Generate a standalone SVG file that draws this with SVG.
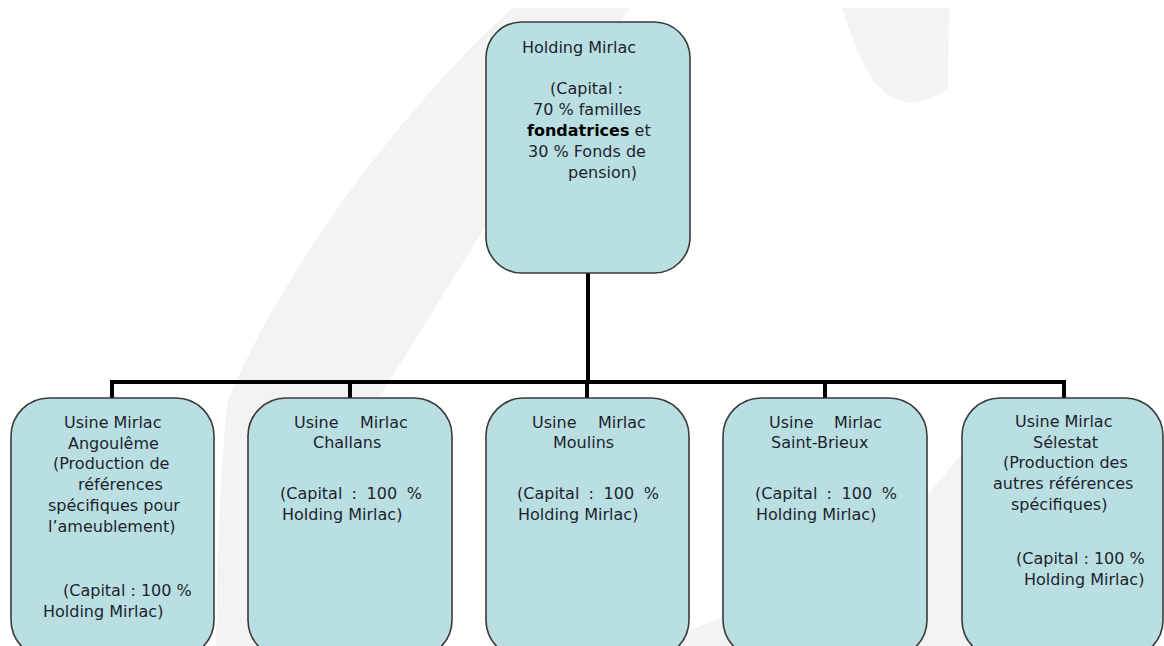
<svg xmlns="http://www.w3.org/2000/svg" width="1164" height="646" viewBox="0 0 1164 646">
<style>
.bg{fill:#f3f3f3;stroke:none}
.box{fill:#b9dfe2;stroke:#3a3a3a;stroke-width:1.6}
.conn{fill:none;stroke:#000;stroke-width:4;stroke-linecap:square}
text{font-family:"DejaVu Sans",Verdana,sans-serif;font-size:16px;fill:#1d1f2e}
.b{font-weight:bold;fill:#000}
</style>
<rect width="1164" height="646" fill="#fff"/>
<g id="watermark">
<path class="bg" d="M513,8 C430,80 290,250 228,400 C222,450 218,520 216,646 L300,646 C320,520 340,450 377,400 C430,320 540,130 630,8 Z"/>
<path class="bg" d="M842,8 C855,45 870,100 910,102 C925,102 940,95 948,88 L949,8 Z"/>
<path class="bg" d="M650,646 C740,612 880,555 940,480 L990,420 L1100,646 Z"/>
</g>
<g id="connectors">
<line class="conn" x1="588" y1="273" x2="588" y2="382"/>
<line class="conn" x1="112" y1="382" x2="1064" y2="382"/>
<line class="conn" x1="112" y1="382" x2="112" y2="398"/>
<line class="conn" x1="350" y1="382" x2="350" y2="398"/>
<line class="conn" x1="587" y1="382" x2="587" y2="398"/>
<line class="conn" x1="825" y1="382" x2="825" y2="398"/>
<line class="conn" x1="1064" y1="382" x2="1064" y2="398"/>
</g>
<g id="holding">
<rect class="box" x="486" y="22" width="204" height="251" rx="36" ry="36"/>
<text x="522" y="52.5">Holding Mirlac</text>
<text x="550" y="94">(Capital :</text>
<text x="533" y="115">70 % familles</text>
<text x="527" y="136"><tspan class="b">fondatrices</tspan> et</text>
<text x="528" y="157">30 % Fonds de</text>
<text x="568" y="178">pension)</text>
</g>
<g id="angouleme">
<rect class="box" x="11" y="398" width="203" height="260" rx="38" ry="38"/>
<text x="64" y="428">Usine Mirlac</text>
<text x="68" y="448.7">Angoulême</text>
<text x="53" y="469.4">(Production de</text>
<text x="78" y="490.1">références</text>
<text x="48" y="510.8">spécifiques pour</text>
<text x="48" y="531.5">l’ameublement)</text>
<text x="63" y="596">(Capital : 100 %</text>
<text x="43" y="616.7">Holding Mirlac)</text>
</g>
<g id="challans">
<rect class="box" x="248" y="398" width="204" height="260" rx="38" ry="38"/>
<text y="427.5"><tspan x="294">Usine</tspan><tspan x="360">Mirlac</tspan></text>
<text x="313" y="448">Challans</text>
<text y="499"><tspan x="280">(Capital</tspan><tspan x="351.6">:</tspan><tspan x="366.6">100</tspan><tspan x="406.7">%</tspan></text>
<text x="282" y="520">Holding Mirlac)</text>
</g>
<g id="moulins">
<rect class="box" x="486" y="398" width="203" height="260" rx="38" ry="38"/>
<text y="427.5"><tspan x="532">Usine</tspan><tspan x="598">Mirlac</tspan></text>
<text x="553" y="448">Moulins</text>
<text y="499"><tspan x="517">(Capital</tspan><tspan x="588.6">:</tspan><tspan x="603.6">100</tspan><tspan x="643.7">%</tspan></text>
<text x="518" y="520">Holding Mirlac)</text>
</g>
<g id="saint-brieux">
<rect class="box" x="723" y="398" width="204" height="260" rx="38" ry="38"/>
<text y="427.5"><tspan x="769">Usine</tspan><tspan x="834">Mirlac</tspan></text>
<text x="771" y="448">Saint-Brieux</text>
<text y="499"><tspan x="755">(Capital</tspan><tspan x="826.6">:</tspan><tspan x="841.6">100</tspan><tspan x="881.7">%</tspan></text>
<text x="756" y="520">Holding Mirlac)</text>
</g>
<g id="selestat">
<rect class="box" x="962" y="398" width="201" height="260" rx="38" ry="38"/>
<text x="1015" y="427">Usine Mirlac</text>
<text x="1033" y="447.7">Sélestat</text>
<text x="1003" y="468.4">(Production des</text>
<text x="993" y="489.1">autres références</text>
<text x="1011" y="509.8">spécifiques)</text>
<text x="1016" y="564">(Capital : 100 %</text>
<text x="1024" y="584.7">Holding Mirlac)</text>
</g>
</svg>
